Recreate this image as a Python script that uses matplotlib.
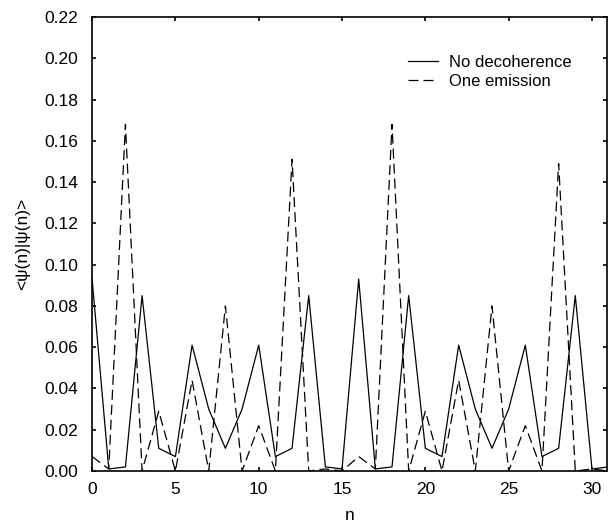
import matplotlib
matplotlib.use("Agg")
import matplotlib.pyplot as plt
import numpy as np

plt.rcParams['font.family'] = ['Liberation Sans', 'DejaVu Sans']

n = list(range(0, 32))
no_decoherence = [0.093, 0.001, 0.002, 0.085, 0.011, 0.007, 0.061, 0.030,
                  0.011, 0.030, 0.061, 0.007, 0.011, 0.085, 0.002, 0.001,
                  0.093, 0.001, 0.002, 0.085, 0.011, 0.007, 0.061, 0.030,
                  0.011, 0.030, 0.061, 0.007, 0.011, 0.085, 0.001, 0.002]
one_emission = [0.007, 0.001, 0.168, 0.000, 0.029, 0.000, 0.044, 0.000,
                0.080, 0.000, 0.022, 0.000, 0.151, 0.000, 0.001, 0.000,
                0.007, 0.001, 0.168, 0.000, 0.029, 0.000, 0.044, 0.000,
                0.080, 0.000, 0.022, 0.000, 0.149, 0.000, 0.001, 0.000]
labels = ["No decoherence", "One emission"]
xticks = [0, 5, 10, 15, 20, 25, 30]
yticks = [0.00, 0.02, 0.04, 0.06, 0.08, 0.10, 0.12, 0.14, 0.16, 0.18, 0.20, 0.22]

fig = plt.figure(figsize=(6.10, 5.23), dpi=100)
ax = fig.add_axes([0.151, 0.0994, 0.844, 0.868])

ax.plot(n, no_decoherence, color='black', lw=0.9, ls='-', label=labels[0])
ax.plot(n, one_emission, color='black', lw=0.9, ls=(0, (8, 4)), label=labels[1])

ax.set_xlim(0, 30.9)
ax.set_ylim(0, 0.22)
ax.set_xticks(xticks)
ax.set_yticks(yticks)
ax.set_yticklabels([f"{v:.2f}" for v in yticks])
ax.tick_params(direction='in', top=True, right=True, length=3, width=1.2,
               labelsize=12.5)
ax.tick_params(axis='y', pad=10)
ax.tick_params(axis='x', pad=8)
for s in ax.spines.values():
    s.set_linewidth(1.2)

ax.set_xlabel("n", fontsize=12.5, va='center')
ax.xaxis.set_label_coords(0.5, -0.097)
ax.set_ylabel("<ψ(n)|ψ(n)>", fontsize=12.5, va='center')
ax.yaxis.set_label_coords(-0.135, 0.5)

ax.legend(loc='upper left', bbox_to_anchor=(0.585, 0.95), frameon=False,
          fontsize=12, handlelength=1.8, handletextpad=0.65, labelspacing=0.25,
          borderaxespad=0.5)

fig.savefig("out.png", dpi=100)
